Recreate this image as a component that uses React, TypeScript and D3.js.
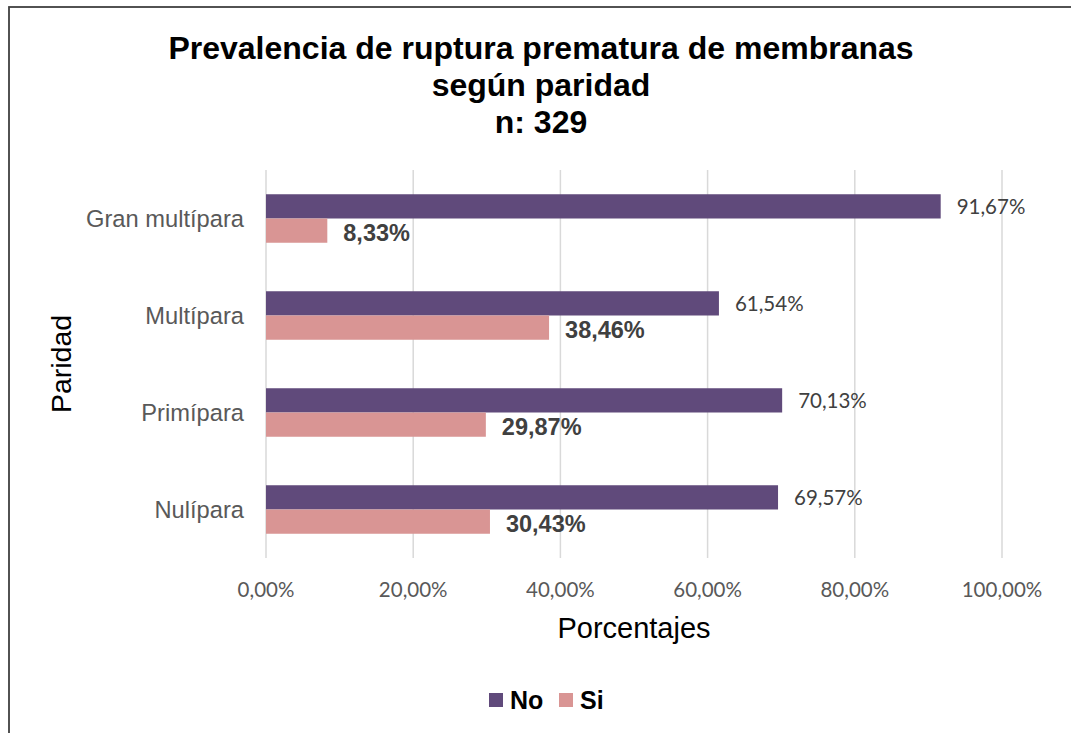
import * as d3 from 'd3'
import React from 'react'

const categories = ['Nulípara', 'Primípara', 'Multípara', 'Gran multípara'];
const seriesNames = ['No', 'Si'];
const noValues = [69.57, 70.13, 61.54, 91.67];
const siValues = [30.43, 29.87, 38.46, 8.33];
const xTicks = [0, 20, 40, 60, 80, 100];
const titleLines = ['Prevalencia de ruptura prematura de membranas', 'según paridad', 'n: 329'];

const colors: Record<string, string> = { No: '#604a7b', Si: '#d99594' };

const fmt = (v: number) => v.toFixed(2).replace('.', ',') + '%';

const App = () => {
    const width = 1071;
    const height = 733;
    const margin = { top: 170, left: 266, right: 69, bottom: 175 };

    const xScale = d3.scaleLinear()
        .domain([0, 100])
        .range([margin.left, width - margin.right]);
    const yScale = d3.scaleBand<string>()
        .domain([...categories].reverse())
        .range([margin.top, height - margin.bottom])
        .paddingInner(0.5)
        .paddingOuter(0.25);
    const inner = d3.scaleBand<string>()
        .domain(seriesNames)
        .range([0, yScale.bandwidth()]);

    const rows = categories.map((c, i) => ({ cat: c, No: noValues[i], Si: siValues[i] }));
    const plotTop = margin.top;
    const plotBottom = height - margin.bottom;

    return (
        <svg width={width} height={height} style={{ position: 'absolute', left: 0, top: 0, background: '#fff' }}>
            <rect x={9} y={7} width={width} height={height} fill='#fff' stroke='#404040' strokeWidth={1.8} />
            {titleLines.map((t, i) => (
                <text key={t} x={541} y={59 + i * 37} textAnchor='middle'
                    style={{ fontFamily: 'Liberation Sans, Arial', fontWeight: 'bold', fontSize: 32 }} fill='#000'>{t}</text>
            ))}
            {xTicks.map(t => (
                <g key={t}>
                    <line x1={xScale(t)} x2={xScale(t)} y1={plotTop} y2={plotBottom} stroke='#d9d9d9' strokeWidth={1.5} />
                    <text x={xScale(t)} y={597} textAnchor='middle'
                        style={{ fontFamily: 'Lato', fontSize: 20.5 }} fill='#595959'>{fmt(t)}</text>
                </g>
            ))}
            {rows.map(r => (
                <g key={r.cat}>
                    <text x={244} y={yScale(r.cat)! + yScale.bandwidth() / 2} dy='0.35em' textAnchor='end'
                        style={{ fontFamily: 'Liberation Sans, Arial', fontSize: 23.7 }} fill='#595959'>{r.cat}</text>
                    {seriesNames.map(s => {
                        const v = (r as any)[s] as number;
                        const y = yScale(r.cat)! + inner(s)!;
                        return (
                            <g key={s}>
                                <rect x={xScale(0)} y={y} width={xScale(v) - xScale(0)} height={inner.bandwidth()} fill={colors[s]} />
                                {s === 'No' ? (
                                    <text x={xScale(v) + 16} y={y + inner.bandwidth() / 2} dy='0.35em'
                                        style={{ fontFamily: 'Lato', fontSize: 20.5 }} fill='#404040'>{fmt(v)}</text>
                                ) : (
                                    <text x={xScale(v) + 16} y={y + inner.bandwidth() / 2 + 2} dy='0.35em'
                                        style={{ fontFamily: 'Liberation Sans, Arial', fontWeight: 'bold', fontSize: 23.5 }} fill='#404040'>{fmt(v)}</text>
                                )}
                            </g>
                        );
                    })}
                </g>
            ))}
            <text x={634} y={638} textAnchor='middle'
                style={{ fontFamily: 'Liberation Sans, Arial', fontSize: 29 }} fill='#000'>Porcentajes</text>
            <text transform='translate(71,364) rotate(-90)' textAnchor='middle'
                style={{ fontFamily: 'Liberation Sans, Arial', fontSize: 28.5 }} fill='#000'>Paridad</text>
            <g>
                <rect x={489} y={693} width={14} height={14} fill={colors.No} />
                <text x={510} y={709} style={{ fontFamily: 'Liberation Sans, Arial', fontWeight: 'bold', fontSize: 25 }} fill='#000'>No</text>
                <rect x={559} y={693} width={14} height={14} fill={colors.Si} />
                <text x={580} y={709} style={{ fontFamily: 'Liberation Sans, Arial', fontWeight: 'bold', fontSize: 25 }} fill='#000'>Si</text>
            </g>
        </svg>
    );
};

export default App;
